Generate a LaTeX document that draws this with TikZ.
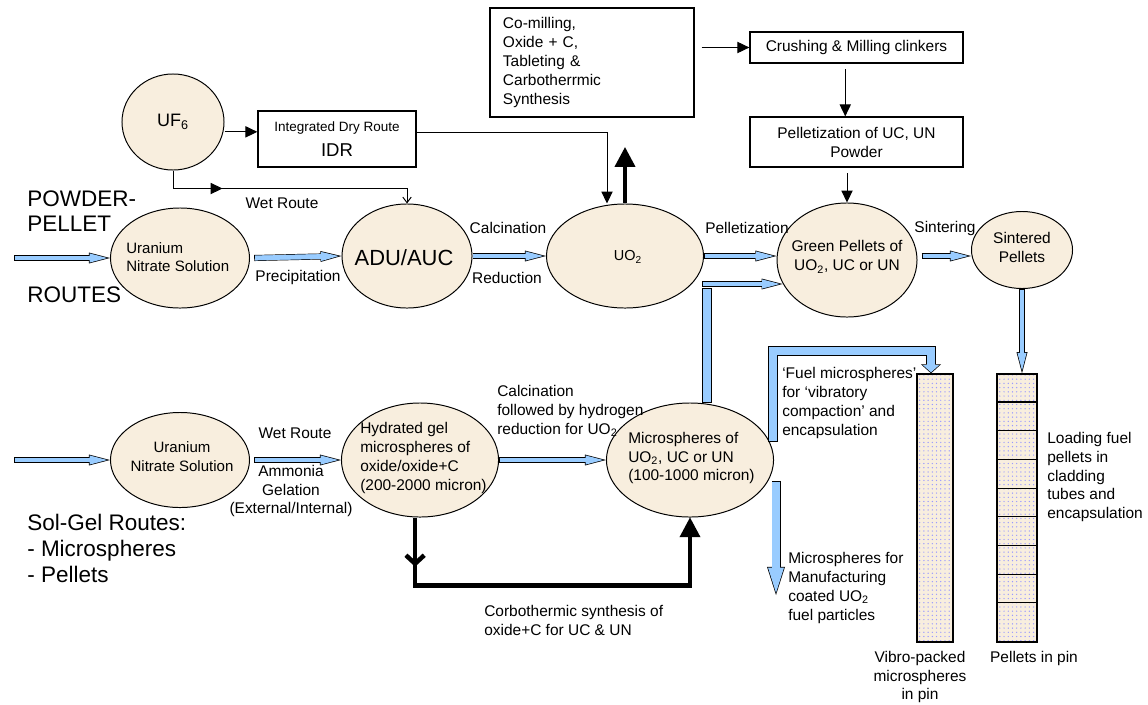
\documentclass[tikz,border=0pt]{standalone}
\usepackage{fontspec}
\setmainfont{Liberation Sans}
\usetikzlibrary{shapes.geometric,arrows.meta,patterns,decorations.markings}
\definecolor{beige}{RGB}{248,238,222}
\definecolor{arrblue}{RGB}{153,204,255}

\begin{document}
\begin{tikzpicture}[x=0.025cm,y=-0.025cm,
  stage/.style={ellipse,draw,fill=beige,line width=0.7pt,inner sep=0pt},
  stepbox/.style={rectangle,draw,line width=0.9pt,inner sep=0pt},
  pinbox/.style={rectangle,draw,line width=0.9pt,preaction={fill=beige},pattern=dots,pattern color=blue!40},
  lbl/.style={font=\fontsize{11}{13.5}\selectfont,inner sep=0pt,align=left},
  lblc/.style={lbl,align=center},
  biglbl/.style={font=\fontsize{16}{18.5}\selectfont,inner sep=0pt,align=left},
  thinarr/.style={line width=0.7pt,-{Triangle[length=8.5pt,width=8pt]}},
  thickarr/.style={line width=3.2pt,-{Triangle[length=14pt,width=15pt,line width=0pt]}},
  bluearr/.style n args={8}{draw=black,line width=#1,-{Triangle[width=#2,length=#3,line width=0pt]},
    postaction={draw=arrblue,line width=#4,shorten <=0.6pt,shorten >=#7,-{Triangle[width=#5,length=#6,line width=0pt]}},
    postaction={draw=arrblue,line width=#4,shorten <=0.6pt,shorten >=#8,arrows=-}},
  flow/.style={bluearr={4.3pt}{7.8pt}{15pt}{3.3pt}{6.5pt}{12.5pt}{2pt}{14pt}},
  pinflow/.style={bluearr={3.6pt}{7.8pt}{15pt}{2.6pt}{6.5pt}{12.5pt}{2pt}{14pt}},
  bigflow/.style={bluearr={6.4pt}{12.8pt}{20pt}{5.4pt}{11.4pt}{17.9pt}{1.6pt}{19pt}},
  fuelflow/.style={bluearr={7.1pt}{14.2pt}{6.4pt}{6.1pt}{11.6pt}{5.2pt}{0.7pt}{5.5pt}},
  bluebar/.style={draw=black,line width=7.1pt,postaction={draw=arrblue,line width=6.1pt,shorten <=0.6pt,shorten >=0.6pt}}]

  \useasboundingbox (0,0) rectangle (1148,704);

  % stages
  \node[stage,minimum width=2.55cm,minimum height=2.4cm] at (173,122) (uf6) {};
  \node[stage,minimum width=3.475cm,minimum height=2.5cm] at (180,258) (uns1) {};
  \node[stage,minimum width=3.25cm,minimum height=2.6cm] at (407,256) (adu) {};
  \node[stage,minimum width=3.925cm,minimum height=2.6cm] at (625,256) (uo2) {};
  \node[stage,minimum width=3.5cm,minimum height=2.85cm] at (847,260) (green) {};
  \node[stage,minimum width=2.525cm,minimum height=1.925cm] at (1022,250) (sint) {};
  \node[stage,minimum width=3.475cm,minimum height=2.375cm] at (180,460) (uns2) {};
  \node[stage,minimum width=3.925cm,minimum height=2.85cm] at (420,460) (hyd) {};
  \node[stage,minimum width=4.175cm,minimum height=2.85cm] at (690,460) (mic) {};

  % boxes
  \node[stepbox,lblc,minimum width=3.95cm,minimum height=1.4cm] at (337,139) (idr)
    {{\fontsize{9.6}{11}\selectfont Integrated Dry Route}\\[4.5pt]{\fontsize{13.2}{16}\selectfont IDR}};
  \node[stepbox,lbl,minimum width=5.1cm,minimum height=2.725cm,text width=4.45cm] at (592,62.5) (com)
    {Co-milling,\\Oxide + C,\\Tableting \&\\Carbotherrmic\\Synthesis};
  \node[stepbox,lbl,minimum width=5.325cm,minimum height=0.775cm] at (856.5,47.5) (crush) {Crushing \& Milling clinkers};
  \node[stepbox,lblc,minimum width=5.325cm,minimum height=1.25cm] at (856.5,142) (pelbox) {Pelletization of UC, UN\\Powder};

  % pins
  \node[pinbox,minimum width=0.9cm,minimum height=6.7cm] at (935,508) (vib) {};
  \node[pinbox,minimum width=1.0cm,minimum height=6.7cm] at (1017,508) (pin) {};
  \foreach \k in {1,...,8}
    \draw[line width=0.8pt] ([yshift=-\k*20.4pt]pin.north west) -- ([yshift=-\k*20.4pt]pin.north east);

  % thin connectors
  \draw[thinarr] ([yshift=-7pt]uf6.east) -- ([yshift=-7pt]uf6.east -| idr.west);
  \draw[thinarr] ([yshift=4.3pt]idr.east) -| ([xshift=-12.8pt]uo2.north);
  \draw[line width=0.7pt,-{Straight Barb[length=4pt,width=6pt]},
    postaction={decorate,decoration={markings,mark=at position 48pt with {\arrow{Triangle[length=8.5pt,width=8pt]}}}}]
    (uf6.south) -- ++(0,18) -| (adu.north);
  \draw[thinarr] ([xshift=5pt]com.east |- crush.west) -- (crush.west);
  \draw[thinarr] ([xshift=-8pt,yshift=-4pt]crush.south) -- ([xshift=-8pt]pelbox.north);
  \draw[thinarr] ([yshift=-4pt]pelbox.south -| green.north) -- (green.north);

  % thick connectors
  \draw[thickarr,shorten >=21pt] (uo2.north) -- (uo2.north |- com.south);
  \draw[thickarr,postaction={decorate,decoration={markings,mark=at position 35pt with {\arrow{Straight Barb[length=6pt,width=13pt]}}}}]
    ([xshift=-3.5pt]hyd.south) -- ++(0,68) -| (mic.south);

  % blue flow arrows
  \coordinate (in1) at (14,258);
  \coordinate (in2) at (14,460);
  \coordinate (mg) at (707,288);
  \coordinate (mh) at (702,284);
  \coordinate (mb) at (776,595);
  \coordinate (fa) at (773,442);
  \coordinate (fk) at (931,351);
  \draw[flow] (in1) -- (uns1.west);
  \draw[flow] ([xshift=3pt]uns1.east) -- (adu.west);
  \draw[flow] (adu.east) -- (uo2.west);
  \draw[flow] (uo2.east) -- (uo2.east -| green.west);
  \draw[flow] ([xshift=3pt]green.east |- uo2.east) -- (sint.west |- uo2.east);
  \draw[flow] (in2) -- (uns2.west);
  \draw[flow] ([xshift=3pt]uns2.east) -- (hyd.west);
  \draw[flow] (hyd.east) -- (mic.west);
  \draw[bluebar] (mic.north -| mg) -- (mg);
  \draw[flow] (mh) -- (mh -| green.200);
  \draw[bigflow] (mic.-15 -| mb) -- (mb);
  \draw[pinflow] (sint.south) -- (sint.south |- pin.north);
  \draw[fuelflow] (fa) |- (fk) -- (fk |- vib.north);

  % texts
  \node[lbl,font=\fontsize{12.8}{15}\selectfont] at (173,122) (uf6-t) {UF\textsubscript{6}};
  \node[biglbl,font=\fontsize{16}{17.8}\selectfont,anchor=west] at (27,211.5) (pp-t) {POWDER-\\PELLET};
  \node[biglbl,anchor=west] at (27,295) (routes-t) {ROUTES};
  \node[lbl,font=\fontsize{10.7}{12.8}\selectfont,anchor=west] at (126,257) (uns1-t) {Uranium\\Nitrate Solution};
  \node[lbl] at (282,203) (wet1-t) {Wet Route};
  \node[lbl] at (298,277) (prec-t) {Precipitation};
  \node[lbl,font=\fontsize{15.6}{18}\selectfont] at (404,258) (adu-t) {ADU/AUC};
  \node[lbl] at (508,228) (calc-t) {Calcination};
  \node[lbl] at (507,278) (red-t) {Reduction};
  \node[lbl,font=\fontsize{10.3}{12}\selectfont] at (628,257) (uo2-t) {UO\textsubscript{2}};
  \node[lbl] at (747,228) (pelz-t) {Pelletization};
  \node[lblc] at (847,257) (green-t) {Green Pellets of\\UO\textsubscript{2}, UC or UN};
  \node[lbl] at (945,228) (sinter-t) {Sintering};
  \node[lblc] at (1022,247) (sint-t) {Sintered\\Pellets};
  \node[lblc,font=\fontsize{10.7}{13.5}\selectfont] at (182,457) (uns2-t) {Uranium\\Nitrate Solution};
  \node[lbl] at (295,433) (wet2-t) {Wet Route};
  \node[lblc] at (291,491) (gel-t) {Ammonia\\Gelation\\(External/Internal)};
  \node[lbl,anchor=west] at (360,458) (hyd-t) {Hydrated gel\\microspheres of\\oxide/oxide+C\\(200-2000 micron)};
  \node[lbl,anchor=west] at (497,411) (calc2-t) {Calcination\\followed by hydrogen\\reduction for UO\textsubscript{2}};
  \node[lbl,anchor=west] at (628,458) (mic-t) {Microspheres of\\UO\textsubscript{2}, UC or UN\\(100-1000 micron)};
  \node[lbl,anchor=west] at (484,620) (corb-t) {Corbothermic synthesis of\\oxide+C for UC \& UN};
  \node[lbl,anchor=west] at (782,403) (fuel-t) {`Fuel microspheres'\\for `vibratory\\compaction' and\\encapsulation};
  \node[lbl,anchor=west] at (788,588) (manu-t) {Microspheres for\\Manufacturing\\coated UO\textsubscript{2}\\fuel particles};
  \node[biglbl,anchor=west] at (27,548) (solgel-t) {Sol-Gel Routes:\\- Microspheres\\- Pellets};
  \node[lblc] at (920,677) (vib-t) {Vibro-packed\\microspheres\\in pin};
  \node[lbl] at (1034,658) (pin-t) {Pellets in pin};
  \node[lbl,anchor=west] at (1047,477) (load-t) {Loading fuel\\pellets in\\cladding\\tubes and\\encapsulation};
\end{tikzpicture}
\end{document}
